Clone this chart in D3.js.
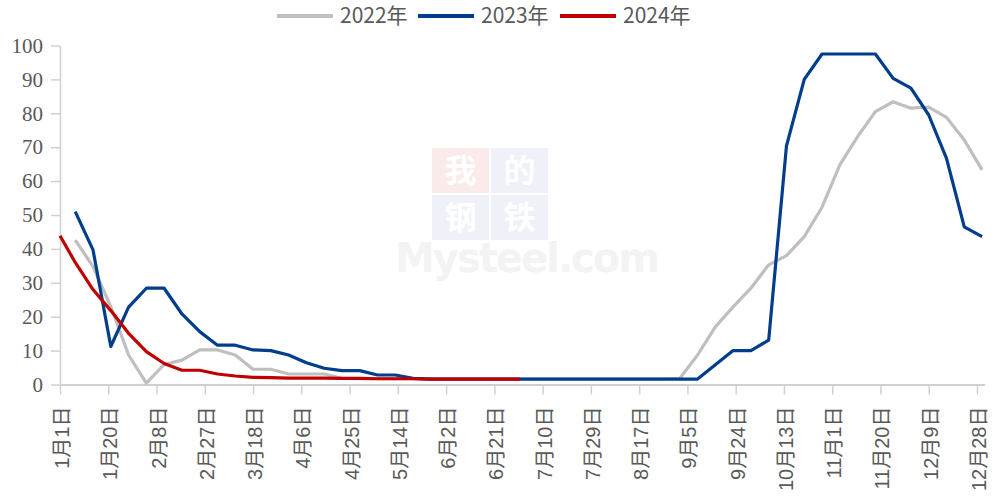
<!DOCTYPE html>
<html>
<head>
<meta charset="utf-8">
<script src="https://cdn.jsdelivr.net/npm/d3@7"></script>
<style>
  body { margin: 0; background: #fff; }
  svg { display: block; }
</style>
</head>
<body>
<div id="chart"></div>
<script>
// x tick labels, every 19 days
const TICK_LABELS = ['1月1日', '1月20日', '2月8日', '2月27日', '3月18日', '4月6日', '4月25日',
  '5月14日', '6月2日', '6月21日', '7月10日', '7月29日', '8月17日', '9月5日', '9月24日',
  '10月13日', '11月1日', '11月20日', '12月9日', '12月28日'];

const SERIES_NAMES = ['2022年', '2023年', '2024年'];

// weekly readings, first one on 1月7日
const v2022 = [42.6, 34.8, 23.0, 8.7, 0.4, 5.9, 7.2, 10.2, 10.2, 8.7, 4.5, 4.5, 3.1, 3.1, 3.1,
  1.8, 1.7, 1.7, 1.7, 1.7, 1.7, 1.7, 1.7, 1.7, 1.7, 1.7, 1.7, 1.7, 1.7, 1.7, 1.7, 1.7, 1.7, 1.7,
  1.8, 8.7, 17.0, 22.9, 28.4, 35.3, 38.0, 43.6, 52.3, 64.8, 73.1, 80.5, 83.4, 81.5, 81.8, 78.8,
  72.1, 63.3];

const v2023 = [51.0, 39.7, 11.2, 22.8, 28.4, 28.4, 20.8, 15.6, 11.6, 11.6, 10.2, 10.0, 8.7, 6.4,
  4.8, 4.1, 4.1, 2.8, 2.8, 1.8, 1.6, 1.6, 1.6, 1.6, 1.6, 1.6, 1.6, 1.6, 1.6, 1.6, 1.6, 1.6, 1.6,
  1.6, 1.6, 1.6, 5.8, 10.0, 10.0, 13.1, 70.4, 90.0, 97.5, 97.5, 97.5, 97.5, 90.3, 87.4, 79.5,
  66.7, 46.5, 43.6];

// 2024: 1月1日, then weekly from 1月7日
const v2024 = [43.9, 36.0, 28.0, 21.8, 15.1, 9.7, 6.2, 4.2, 4.2, 3.1, 2.5, 2.1, 2.0, 1.9, 1.9,
  1.9, 1.8, 1.8, 1.7, 1.7, 1.7, 1.6, 1.6, 1.6, 1.6, 1.6, 1.6];

const COLORS = ['#bfbfbf', '#003e8c', '#c00000'];

const W = 995, H = 500;
const textColor = '#595959';
const axisColor = '#d0d0d0';

const parseLabel = s => {
  const m = s.match(/(\d+)月(\d+)日/);
  return new Date(2023, +m[1] - 1, +m[2]);
};

const weeks = d3.timeDay.range(new Date(2023, 0, 7), new Date(2024, 0, 1), 7);
const dates2024 = [new Date(2023, 0, 1)].concat(weeks.slice(0, v2024.length - 1));

const data = [
  v2022.map((v, i) => ({date: weeks[i], value: v})),
  v2023.map((v, i) => ({date: weeks[i], value: v})),
  v2024.map((v, i) => ({date: dates2024[i], value: v}))
];

const svg = d3.select('#chart').append('svg')
  .attr('width', W)
  .attr('height', H);

const x = d3.scaleTime()
  .domain([new Date(2023, 0, 1), new Date(2023, 11, 31)])
  .range([60, 984.6]);

const y = d3.scaleLinear()
  .domain([0, 100])
  .range([384.5, 45.5]);

// watermark
const wm = svg.append('g').attr('class', 'watermark');
const boxes = [
  {t: '我', x: 432, y: 148, c: '#fbeaea'},
  {t: '的', x: 491, y: 148, c: '#eef1f7'},
  {t: '钢', x: 432, y: 195, c: '#eef1f7'},
  {t: '铁', x: 491, y: 195, c: '#eef1f7'}
];
wm.selectAll('rect').data(boxes).enter().append('rect')
  .attr('x', d => d.x).attr('y', d => d.y)
  .attr('width', 57).attr('height', 45)
  .attr('fill', d => d.c);
wm.selectAll('text.wc').data(boxes).enter().append('text')
  .attr('class', 'wc')
  .attr('x', d => d.x + 28.5).attr('y', d => d.y + 34)
  .attr('text-anchor', 'middle')
  .style('font-family', '"Noto Sans CJK SC"')
  .style('font-weight', 'bold')
  .style('font-size', '32px')
  .attr('fill', '#fff')
  .text(d => d.t);
wm.append('text')
  .attr('x', 395).attr('y', 272)
  .attr('textLength', 265)
  .style('font-family', '"DejaVu Sans"')
  .style('font-weight', 'bold')
  .style('font-size', '40px')
  .attr('fill', '#f3f3f3')
  .text('Mysteel.com');

// y axis
const yAxis = svg.append('g')
  .attr('transform', 'translate(60,0)')
  .call(d3.axisLeft(y).ticks(10).tickSize(9).tickSizeOuter(0).tickPadding(8));
yAxis.select('.domain').attr('stroke', axisColor).attr('stroke-width', 1.5);
yAxis.selectAll('.tick line').attr('stroke', axisColor).attr('stroke-width', 1.5);
yAxis.selectAll('.tick text')
  .style('font-family', '"Liberation Serif", serif')
  .style('font-size', '21px')
  .attr('fill', textColor);

// x axis
const xAxis = svg.append('g')
  .attr('transform', 'translate(0,384.5)')
  .call(d3.axisBottom(x)
    .tickValues(TICK_LABELS.map(parseLabel))
    .tickFormat((d, i) => TICK_LABELS[i])
    .tickSize(10)
    .tickSizeOuter(0));
xAxis.select('.domain').attr('stroke', axisColor).attr('stroke-width', 2);
xAxis.selectAll('.tick line').attr('stroke', axisColor).attr('stroke-width', 1.5);
xAxis.selectAll('.tick text')
  .style('font-family', '"Liberation Sans", "Noto Sans CJK SC", sans-serif')
  .style('font-size', '20px')
  .attr('fill', textColor)
  .attr('text-anchor', 'end')
  .attr('dy', '0.35em')
  .attr('transform', 'translate(1.5,22) rotate(-90)')
  .attr('x', 0)
  .attr('y', 0);

// lines
const line = d3.line()
  .x(d => x(d.date))
  .y(d => y(d.value));

svg.append('g').selectAll('path')
  .data(data)
  .enter()
  .append('path')
  .attr('d', line)
  .attr('fill', 'none')
  .attr('stroke', (d, i) => COLORS[i])
  .attr('stroke-width', 3.2)
  .attr('stroke-linejoin', 'round')
  .attr('stroke-linecap', 'butt');

// legend
const legendX = [277, 418, 560];
const legend = svg.append('g').selectAll('g')
  .data(SERIES_NAMES)
  .enter()
  .append('g')
  .attr('transform', (d, i) => 'translate(' + legendX[i] + ',16)');
legend.append('line')
  .attr('x1', 0).attr('x2', 56)
  .attr('stroke', (d, i) => COLORS[i])
  .attr('stroke-width', 4);
legend.append('text')
  .attr('x', 63)
  .attr('dy', '0.35em')
  .style('font-family', '"Noto Sans CJK SC", sans-serif')
  .style('font-size', '21px')
  .attr('fill', textColor)
  .text(d => d);
</script>
</body>
</html>
